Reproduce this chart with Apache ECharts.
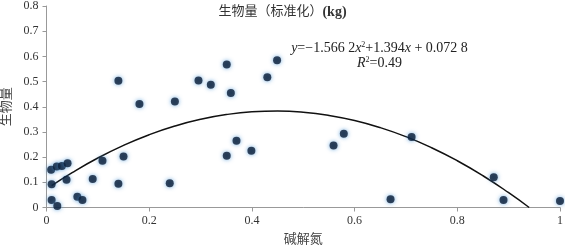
<!DOCTYPE html>
<html><head><meta charset="utf-8">
<script src="https://cdn.jsdelivr.net/npm/echarts@6/dist/echarts.min.js"></script>
<style>html,body{margin:0;padding:0;background:#fff}#c{width:565px;height:246px}</style>
</head><body><div id="c"></div>
<script>
const pointsX = [0.009,0.02,0.03,0.041,0.01,0.039,0.01,0.021,0.06,0.07,0.09,0.109,0.15,0.14,0.24,0.14,0.181,0.25,0.296,0.32,0.351,0.359,0.43,0.449,0.351,0.37,0.399,0.559,0.579,0.67,0.711,0.871,0.89,1.0];
const pointsY = [0.15,0.163,0.165,0.176,0.092,0.11,0.03,0.006,0.043,0.03,0.113,0.186,0.202,0.094,0.096,0.503,0.411,0.421,0.504,0.487,0.568,0.455,0.517,0.585,0.205,0.265,0.225,0.246,0.293,0.033,0.28,0.12,0.03,0.026];
const curveX = [0.01,0.05,0.1,0.15,0.2,0.25,0.3,0.35,0.4,0.45,0.5,0.55,0.6,0.65,0.7,0.75,0.8,0.85,0.9,0.94];
const curveY = [0.0866,0.1386,0.1965,0.2467,0.2890,0.3234,0.3500,0.3688,0.3798,0.3829,0.3783,0.3657,0.3454,0.3172,0.2812,0.2373,0.1856,0.1261,0.0588,0.0];
const xTicks = [0,0.2,0.4,0.6,0.8,1];
const yTicks = [0,0.1,0.2,0.3,0.4,0.5,0.6,0.7,0.8];

const serif = "'Liberation Serif','Noto Sans CJK SC',serif";
const chart = echarts.init(document.getElementById('c'), null, {renderer:'canvas'});
chart.setOption({
  animation:false,
  title:{text:'生物量（标准化）{b|(kg)}',left:'center',top:0,textStyle:{fontFamily:serif,fontSize:13,fontWeight:'normal',color:'#333',
    rich:{b:{fontFamily:serif,fontSize:14,fontWeight:'bold',color:'#333'}}}},
  grid:{left:46.5,right:5,top:6,bottom:38.5,containLabel:false,outerBoundsMode:'none'},
  xAxis:{type:'value',min:0,max:1,interval:0.2,name:'碱解氮',nameLocation:'middle',nameGap:26,
    nameTextStyle:{fontFamily:serif,fontSize:13,color:'#444'},
    axisLine:{lineStyle:{color:'#999',width:1}},axisTick:{show:true,length:4,lineStyle:{color:'#999'}},
    axisLabel:{fontFamily:serif,fontSize:12,color:'#333',margin:7,formatter:v=>xTicks.includes(+v.toFixed(1))?String(+v.toFixed(1)):''},
    splitLine:{show:false}},
  yAxis:{type:'value',min:0,max:0.8,interval:0.1,name:'生物量',nameLocation:'middle',nameGap:33,
    nameTextStyle:{fontFamily:serif,fontSize:13,color:'#444'},
    axisLine:{show:true,lineStyle:{color:'#999',width:1}},axisTick:{show:true,length:4,lineStyle:{color:'#999'}},
    axisLabel:{fontFamily:serif,fontSize:12,color:'#333',margin:8,formatter:v=>yTicks.includes(+v.toFixed(1))?String(+v.toFixed(1)):''},
    splitLine:{show:false}},
  series:[
    {type:'line',data:curveX.map((x,i)=>[x,curveY[i]]),smooth:true,showSymbol:false,
     lineStyle:{color:'#111',width:1.5},z:2},
    {type:'scatter',data:pointsX.map((x,i)=>[x,pointsY[i]]),symbolSize:8,
     itemStyle:{color:'#0a1c34',shadowBlur:4,shadowColor:'rgba(60,140,210,0.9)'},z:3}
  ],
  graphic:[
    {type:'text',x:379.5,y:48,style:{
      text:'{i|y}=−1.566 2{i|x}{s|2}+1.394{i|x} + 0.072 8',
      align:'center',verticalAlign:'middle',fontFamily:serif,fontSize:14,fill:'#222',
      rich:{i:{fontStyle:'italic',fontFamily:serif,fontSize:14},s:{fontSize:8,fontFamily:serif,verticalAlign:'top',padding:[0,0,6,0]}}}},
    {type:'text',x:379.5,y:63,style:{
      text:'{i|R}{s|2}=0.49',align:'center',verticalAlign:'middle',fontFamily:serif,fontSize:14,fill:'#222',
      rich:{i:{fontStyle:'italic',fontFamily:serif,fontSize:14},s:{fontSize:8,fontFamily:serif,verticalAlign:'top',padding:[0,0,6,0]}}}}
  ]
});
</script></body></html>
